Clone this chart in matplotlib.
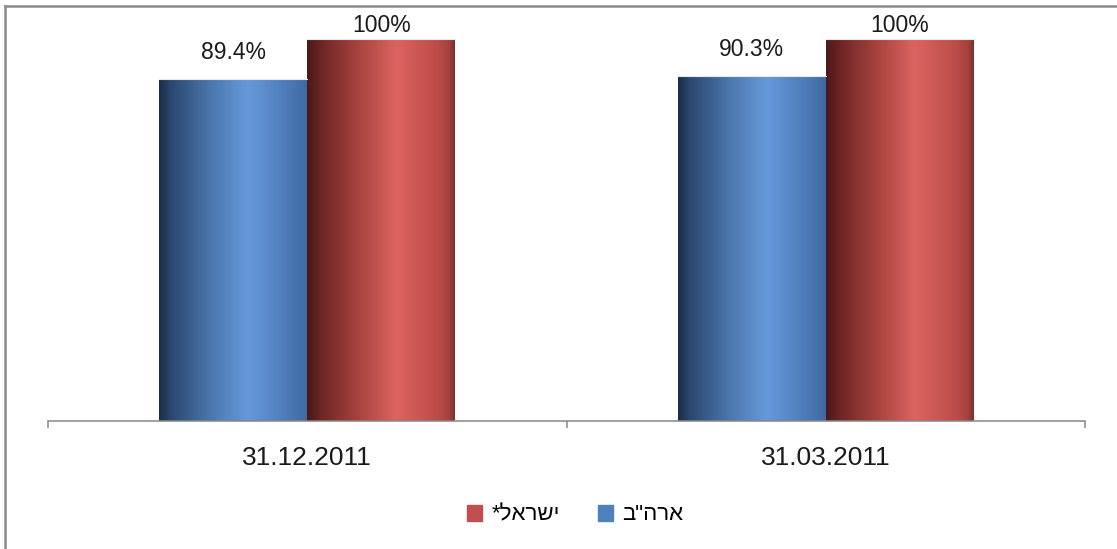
import numpy as np
import matplotlib
matplotlib.use("Agg")
import matplotlib.pyplot as plt
from matplotlib.colors import LinearSegmentedColormap
from matplotlib.patches import Rectangle
from matplotlib.lines import Line2D

plt.rcParams['font.family'] = ['Liberation Sans', 'DejaVu Sans']

# data
dates = ["31.12.2011", "31.03.2011"]
usa = [89.4, 90.3]
israel = [100, 100]
# Hebrew legend names, stored in visual (left-to-right) order since matplotlib has no bidi
usa_name = 'ארה"ב'[::-1]
israel_name = "*" + "ישראל"[::-1]

blue_cmap = LinearSegmentedColormap.from_list(
    "blue3d", [(0.0, "#1b2d47"), (0.08, "#2c4770"), (0.35, "#4b77ae"),
               (0.6, "#6699da"), (0.85, "#4f7dbb"), (1.0, "#3f6aa3")])
red_cmap = LinearSegmentedColormap.from_list(
    "red3d", [(0.0, "#4a1818"), (0.1, "#6e2726"), (0.35, "#a9433f"),
              (0.6, "#dc6460"), (0.88, "#bd4d4a"), (0.96, "#a5413e"), (1.0, "#7e302e")])

fig = plt.figure(figsize=(11.17, 5.49), dpi=100)
ax = fig.add_axes([48 / 1117, 128 / 549, 1037 / 1117, 382 / 549])

x = np.arange(len(dates))
w = 0.285
usa_bars = ax.bar(x - w / 2, usa, w, color="none")
isr_bars = ax.bar(x + w / 2, israel, w, color="none")

grad = np.linspace(0, 1, 256).reshape(1, -1)
for bars, cmap in [(usa_bars, blue_cmap), (isr_bars, red_cmap)]:
    for b in bars:
        x0, h, bw = b.get_x(), b.get_height(), b.get_width()
        im = ax.imshow(grad, cmap=cmap, aspect="auto", extent=(x0, x0 + bw, 0, h),
                       interpolation="bilinear", zorder=2)
        im.set_clip_path(Rectangle((x0, 0), bw, h, transform=ax.transData))
        ax.plot([x0, x0 + bw], [h, h], color="#e8e8e8", lw=0.8, zorder=3)

# value labels; the tallest ones are held down at the top of the plot area
for bars, vals in [(usa_bars, usa), (isr_bars, israel)]:
    for b, v in zip(bars, vals):
        ty = min(v + 7.0, 103.6)
        label = f"{v:.0f}%" if v == 100 else f"{v:.1f}%"
        ax.text(b.get_x() + b.get_width() / 2, ty, label, ha="center", va="center",
                fontsize=16.5, color="#1a1a1a", clip_on=False)

ax.set_xlim(-0.5, 1.5)
ax.set_ylim(0, 100)
ax.set_yticks([])
ax.set_xticks([-0.5, 0.5, 1.5])
ax.set_xticklabels([])
ax.set_xticks(x, minor=True)
ax.set_xticklabels(dates, minor=True, fontsize=19, color="#1a1a1a")
ax.tick_params(axis="x", which="major", length=5, width=1.1, color="#868686", direction="out")
ax.tick_params(axis="x", which="minor", length=0, pad=18)
for s in ["top", "left", "right"]:
    ax.spines[s].set_visible(False)
ax.spines["bottom"].set_color("#868686")
ax.spines["bottom"].set_linewidth(1.1)
ax.patch.set_visible(False)

# outer frame (top and left edges only)
fig.add_artist(Line2D([5 / 1117, 1], [1 - 6 / 549, 1 - 6 / 549], transform=fig.transFigure,
                      color="#8a8a8a", lw=1.8))
fig.add_artist(Line2D([5 / 1117, 5 / 1117], [0, 1 - 6 / 549], transform=fig.transFigure,
                      color="#8a8a8a", lw=1.8))

handles = [Rectangle((0, 0), 1, 1, color="#c0504d"), Rectangle((0, 0), 1, 1, color="#4f81bd")]
fig.legend(handles, [israel_name, usa_name], loc="center", bbox_to_anchor=(575 / 1117, 1 - 515 / 549),
           ncol=2, frameon=False, fontsize=16, handlelength=0.7, handleheight=0.7,
           handletextpad=0.4, columnspacing=1.7)

fig.savefig("out.png", dpi=100)
